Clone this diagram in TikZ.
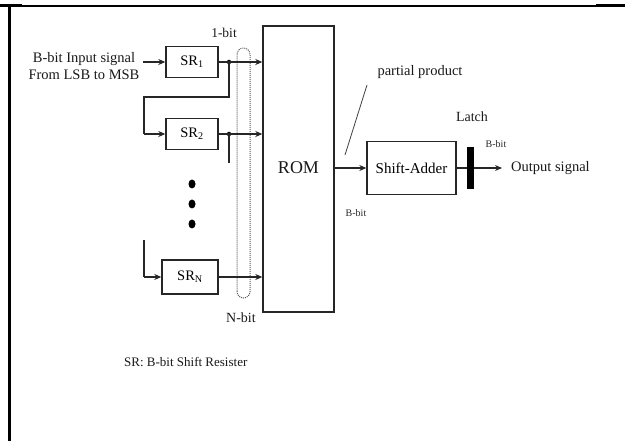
\documentclass[tikz,border=0pt]{standalone}
\usepackage{fontspec}
\setmainfont{Liberation Serif}
\usetikzlibrary{arrows.meta,shapes.geometric}
\begin{document}
\begin{tikzpicture}[x=1pt,y=-1pt,
  box/.style={draw=black!85,line width=1.4pt,inner sep=0pt},
  wire/.style={draw=black!85,line width=1.4pt},
  arr/.style={wire,-{Stealth[length=7pt,width=6pt]}},
  jdot/.style={circle,fill=black,inner sep=0pt,minimum size=4.5pt},
  bigdot/.style={ellipse,fill=black,inner sep=0pt,minimum width=7pt,minimum height=9pt},
  lbl/.style={font=\fontsize{14.5}{17}\selectfont,inner sep=0pt,text=black!90},
  small/.style={font=\fontsize{10}{12}\selectfont,inner sep=0pt,text=black!85}
]
\useasboundingbox (0,0) rectangle (625,441);
% outer frame
\draw[line width=1.5pt] (0,6) -- (625,6);
\draw[line width=3pt] (0,6) -- (22,6);
\draw[line width=3pt] (596,6) -- (625,6);
\draw[line width=2.5pt] (9.5,6) -- (9.5,441);

% boxes
\node[box,minimum width=52pt,minimum height=31pt] (sr1) at (192,62) {\fontsize{14.5}{16}\selectfont SR\textsubscript{1}};
\node[box,minimum width=52pt,minimum height=31pt] (sr2) at (192,134) {\fontsize{14.5}{16}\selectfont SR\textsubscript{2}};
\node[box,minimum width=56pt,minimum height=34pt] (srn) at (190,277) {\fontsize{14.5}{16}\selectfont SR\textsubscript{N}};
\node[box,minimum width=71pt,minimum height=286pt] (rom) at (298.5,169) {};
\node[lbl,font=\fontsize{18}{20}\selectfont] (romt) at (298.5,168) {ROM};
\node[box,minimum width=89pt,minimum height=53pt] (sa) at (411.5,168) {\fontsize{15}{17}\selectfont Shift-Adder};
\node[fill=black,inner sep=0pt,minimum width=7pt,minimum height=42pt] (latch) at (470.5,168) {};

% dots
\node[jdot] (d1) at (229,62) {};
\node[jdot] (d2) at (229,134) {};
\node[bigdot] (b1) at (192,184) {};
\node[bigdot] (b2) at (192,204) {};
\node[bigdot] (b3) at (192,224) {};

% coordinates
\coordinate (in1) at (143,62);
\coordinate (fb1) at (229,97);
\coordinate (fb2) at (144,97);
\coordinate (tap2) at (229,163);
\coordinate (inN) at (144,240);
\coordinate (out) at (502,168);
\coordinate (pp1) at (367,85);
\coordinate (pp2) at (345,155);

% dashed loop
\draw[black!65,densely dotted,line width=1pt,rounded corners=6.5pt] (237,298) rectangle (250,48);

% wires
\draw[arr] (in1) -- (sr1.west);
\draw[arr] (sr1.east) -- (rom.west |- sr1.east);
\draw[wire] (d1.center) -- (fb1) -- (fb2) -- (fb2 |- sr2.west);
\draw[arr] (fb2 |- sr2.west) -- (sr2.west);
\draw[arr] (sr2.east) -- (rom.west |- sr2.east);
\draw[wire] (d2.center) -- (tap2);
\draw[wire] (inN) -- (inN |- srn.west);
\draw[arr] (inN |- srn.west) -- (srn.west);
\draw[arr] (srn.east) -- (rom.west |- srn.east);
\draw[arr] (rom.east |- sa.west) -- (sa.west);
\draw[wire] (sa.east) -- (latch.west);
\draw[arr] (latch.east) -- (out);
\draw[black!75,line width=0.8pt] (pp1) -- (pp2);

% labels
\node[lbl,align=center] (inlbl) at (84,66) {B-bit Input signal\\From LSB to MSB};
\node[lbl,font=\fontsize{13.5}{15}\selectfont] (onebit) at (224,33) {1-bit};
\node[lbl,font=\fontsize{14}{16}\selectfont] (nbit) at (241,318) {N-bit};
\node[lbl] (pptxt) at (420,72) {partial product};
\node[lbl,font=\fontsize{14}{16}\selectfont] (latchtxt) at (472,117) {Latch};
\node[small] (bb1) at (496,144) {B-bit};
\node[small] (bb2) at (356,213) {B-bit};
\node[lbl,anchor=west,font=\fontsize{14.5}{16}\selectfont] (outtxt) at (511,168) {Output signal};
\node[lbl,anchor=west,font=\fontsize{13}{15}\selectfont] (legend) at (124,362) {SR: B-bit Shift Resister};
\end{tikzpicture}
\end{document}
